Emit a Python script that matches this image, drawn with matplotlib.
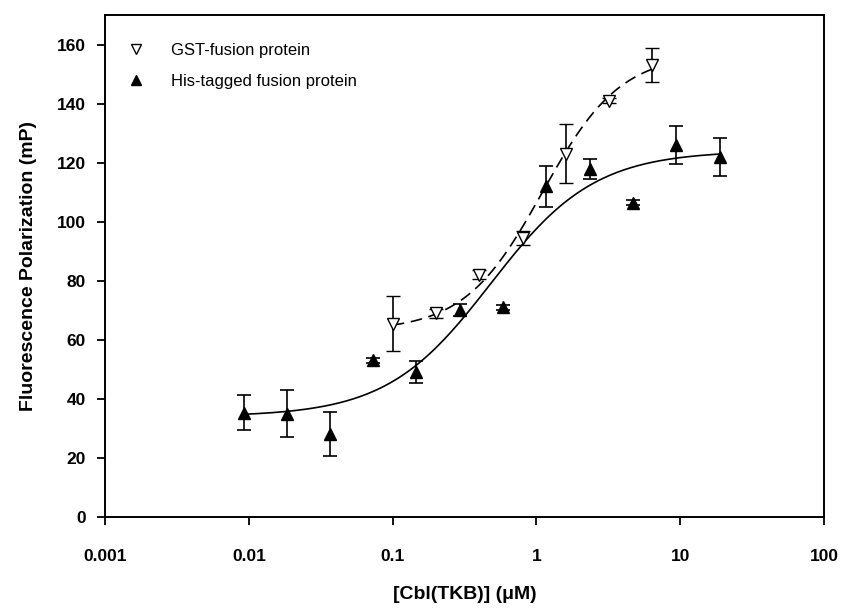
import numpy as np
import matplotlib
matplotlib.use("Agg")
import matplotlib.pyplot as plt

plt.rcParams['font.family'] = ['Liberation Sans', 'DejaVu Sans']

# GST-fusion protein (open down triangles, dashed fit)
gst_x = [0.1, 0.2, 0.4, 0.8, 1.6, 3.2, 6.4]
gst_y = [65.5, 69, 82, 94.5, 123, 141, 153]
gst_err = [9.3, 1.5, 1.5, 2.5, 10, 0.8, 5.8]

# His-tagged fusion protein (filled triangles, solid fit)
his_x = [0.0092, 0.0183, 0.0366, 0.0732, 0.146, 0.293, 0.586, 1.17, 2.34, 4.69, 9.375, 18.75]
his_y = [35.3, 35, 28, 53, 49, 70, 71, 112, 118, 106.5, 126, 122]
his_err = [6, 8, 7.5, 0.8, 3.7, 2, 0.8, 7, 3.4, 0.8, 6.3, 6.4]

# four-parameter logistic fit parameters (bottom, top, EC50, hill)
gst_fit = [63, 157, 1.1, 1.6]
his_fit = [34, 124, 0.48, 1.2]

xticks = [0.001, 0.01, 0.1, 1, 10, 100]
xtick_labels = ['0.001', '0.01', '0.1', '1', '10', '100']
yticks = [0, 20, 40, 60, 80, 100, 120, 140, 160]


def logistic(x, p):
    b, t, ec, h = p
    return b + (t - b) / (1 + (ec / x) ** h)


fig = plt.figure(figsize=(8.43, 6.10), dpi=100)
ax = fig.add_axes([0.1246, 0.1525, 0.853, 0.8229])

xs = np.logspace(np.log10(his_x[0]), np.log10(his_x[-1]), 200)
ax.plot(xs, logistic(xs, his_fit), color='black', lw=1.2)
xs = np.logspace(np.log10(gst_x[0]), np.log10(gst_x[-1]), 200)
ax.plot(xs, logistic(xs, gst_fit), color='black', lw=1.2, dashes=(7, 4))

ax.errorbar(gst_x, gst_y, yerr=gst_err, fmt='v', ms=9, mfc='white', mec='black',
            mew=1.0, ecolor='black', elinewidth=1.2, capsize=5, capthick=1.2,
            label='GST-fusion protein')
ax.errorbar(his_x, his_y, yerr=his_err, fmt='^', ms=9, mfc='black', mec='black',
            ecolor='black', elinewidth=1.2, capsize=5, capthick=1.2,
            label='His-tagged fusion protein')

ax.set_xscale('log')
ax.set_xlim(0.001, 100)
ax.set_ylim(0, 170)
ax.set_xticks(xticks)
ax.set_xticklabels(xtick_labels)
ax.xaxis.set_minor_locator(matplotlib.ticker.NullLocator())
ax.set_yticks(yticks)

for sp in ax.spines.values():
    sp.set_linewidth(1.4)
ax.tick_params(direction='out', length=6, width=1.3, labelsize=12.5, pad=8)
ax.tick_params(axis='x', pad=17)
for lab in ax.get_xticklabels() + ax.get_yticklabels():
    lab.set_fontweight('bold')

ax.set_xlabel('[Cbl(TKB)] (\u03bcM)', fontsize=14, fontweight='bold', labelpad=16)
ax.set_ylabel('Fluorescence Polarization (mP)', fontsize=14, fontweight='bold', labelpad=14)

handles, labels = ax.get_legend_handles_labels()
handles = [h[0] for h in handles]
ax.legend(handles, labels, loc='upper left', bbox_to_anchor=(0.01, 0.975), frameon=False,
          fontsize=12, handlelength=1.0, handletextpad=1.6, labelspacing=1.0, markerscale=0.8)

fig.savefig('out.png', dpi=100)
